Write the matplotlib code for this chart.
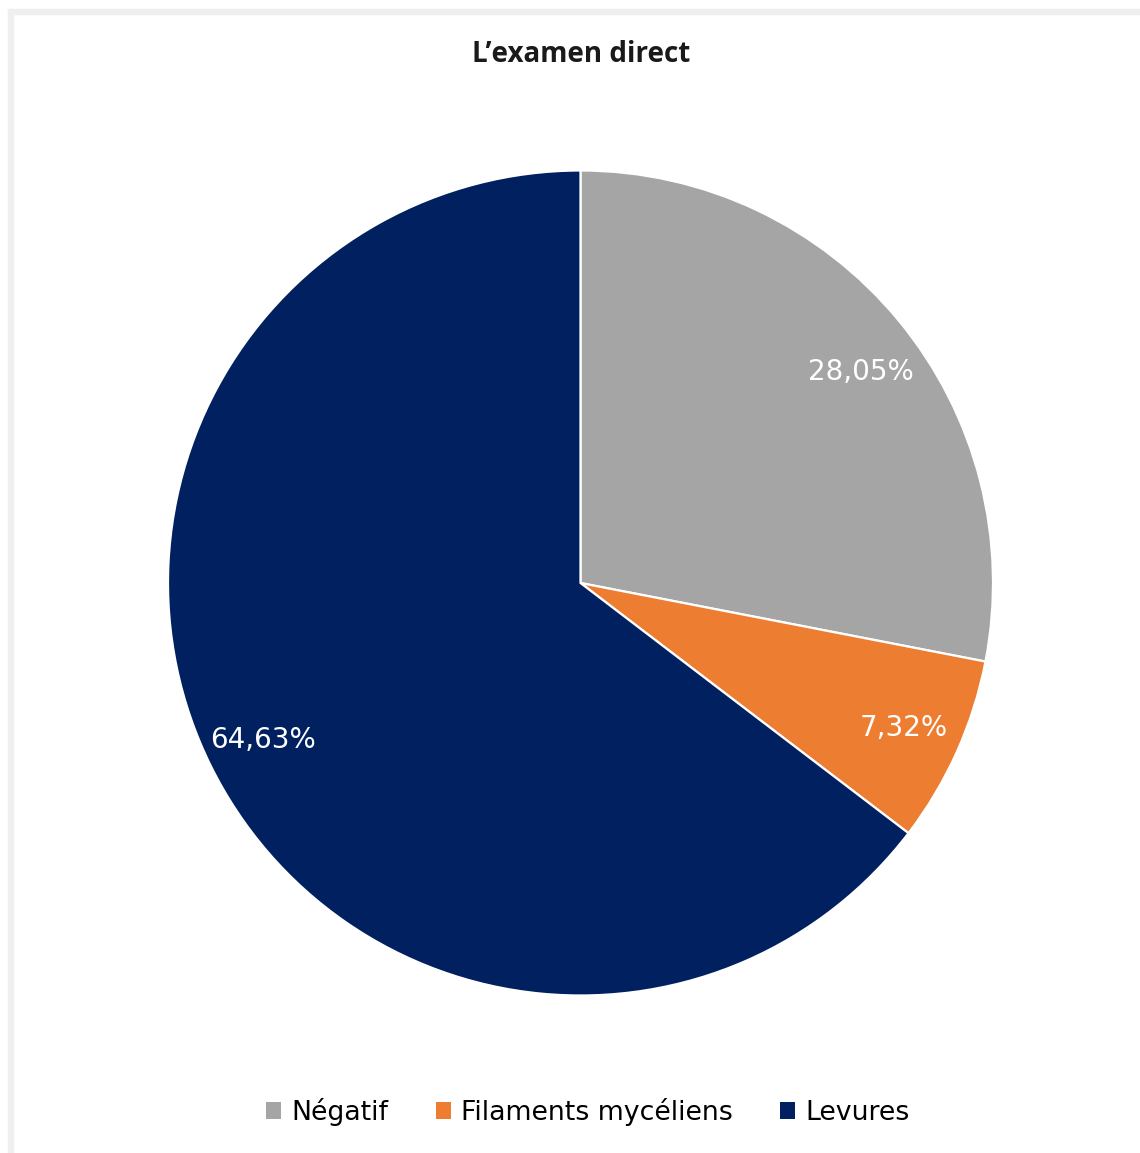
import matplotlib
matplotlib.use("Agg")
import numpy as np
import matplotlib.pyplot as plt
from matplotlib.patches import Rectangle, Patch

# Data
categories = ["Négatif", "Filaments mycéliens", "Levures"]
shares = [28.05, 7.32, 64.63]
colors = ["#A5A5A5", "#ED7D31", "#002060"]
title = "L\u2019examen direct"

W, H = 1140, 1153
fig = plt.figure(figsize=(W / 100, H / 100), dpi=100)
fig.patch.set_facecolor("white")

# Light grey frame along the top and left edges
band = "#EFEFEF"
fig.patches.append(Rectangle((8 / W, 1 - 14 / H), 1 - 8 / W, 5 / H,
                             transform=fig.transFigure, color=band, zorder=0))
fig.patches.append(Rectangle((8 / W, 0), 5 / W, 1 - 9 / H,
                             transform=fig.transFigure, color=band, zorder=0))

# Pie axes: centre (580, 583), radius ~412 px
r = 412.5
cx, cy = 580.5, 583
ax = fig.add_axes([(cx - r) / W, 1 - (cy + r) / H, 2 * r / W, 2 * r / H])

def fmt(p):
    return f"{p:.2f}%".replace(".", ",")

wedges, texts, autotexts = ax.pie(
    shares, colors=colors, startangle=90, counterclock=False,
    autopct=fmt, pctdistance=0.86,
    wedgeprops=dict(edgecolor="white", linewidth=1.6),
    textprops=dict(color="white", fontsize=20, family="DejaVu Sans"),
)
# nudge the first label slightly toward the edge of its wedge
ang = np.deg2rad(37.0)
autotexts[0].set_position((0.85 * np.cos(ang), 0.85 * np.sin(ang)))

ax.set_aspect("equal")
ax.set_xlim(-1, 1)
ax.set_ylim(-1, 1)
ax.axis("off")

fig.text(581 / W, 1 - 54 / H, title, ha="center", va="center",
         fontsize=20, fontweight="bold", family="Open Sans", color="#1a1a1a")

handles = [Patch(facecolor=c, edgecolor="none") for c in colors]
fig.legend(handles, categories, loc="center", bbox_to_anchor=(588 / W, 1 - 1112 / H),
           ncol=3, frameon=False, handlelength=0.55, handleheight=0.55,
           handletextpad=0.4, columnspacing=1.75,
           prop=dict(family="DejaVu Sans", size=19.3))

fig.savefig("out.png", dpi=100, facecolor="white")
